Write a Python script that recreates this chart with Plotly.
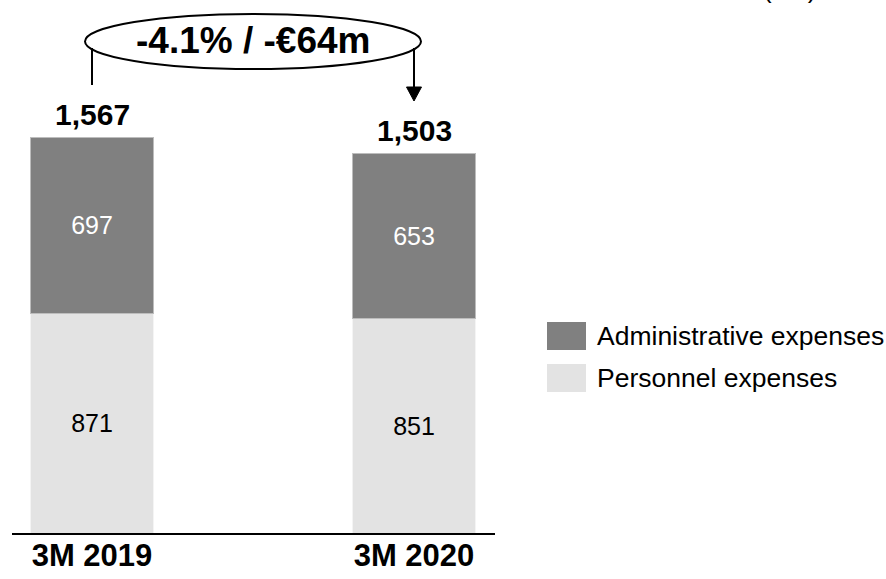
import plotly.graph_objects as go

# Quarterly operating expenses, € million
periods = ["3M 2019", "3M 2020"]
personnel = [871, 851]
administrative = [697, 653]
totals = [1567, 1503]
change_label = "-4.1% / -€64m"
unit_label = "(€m)"
series_names = ["Administrative expenses", "Personnel expenses"]

ADMIN_COLOR = "#808080"
PERSONNEL_COLOR = "#e3e3e3"
FONT = "Liberation Sans, Arial, sans-serif"

W, H = 886, 579
ML, MR, MT, MB = 12, 391, 20, 46
PLOT_W = W - ML - MR
PLOT_H = H - MT - MB


def px_x(px):
    """Pixel column -> paper x."""
    return (px - ML) / PLOT_W


def px_y(py):
    """Pixel row (from top) -> paper y."""
    return (H - MB - py) / PLOT_H


xpos = list(range(len(periods)))
bar_w = 0.385

fig = go.Figure()
fig.add_trace(go.Bar(
    x=xpos, y=personnel, width=bar_w, name=series_names[1],
    marker=dict(color=PERSONNEL_COLOR, line=dict(color="#f4f4f4", width=1)),
    text=[str(v) for v in personnel], textposition="inside",
    insidetextanchor="middle",
    textfont=dict(family=FONT, size=25, color="#000000"),
    showlegend=False, hoverinfo="skip",
))
fig.add_trace(go.Bar(
    x=xpos, y=administrative, width=bar_w, name=series_names[0],
    marker=dict(color=ADMIN_COLOR, line=dict(color="#bdbdbd", width=1)),
    text=[str(v) for v in administrative], textposition="inside",
    insidetextanchor="middle",
    textfont=dict(family=FONT, size=25, color="#ffffff"),
    showlegend=False, hoverinfo="skip",
))

annotations = []
# Totals above the stacks
for i, t in enumerate(totals):
    annotations.append(dict(
        x=xpos[i], y=t, xref="x", yref="y", text=f"{t:,}",
        showarrow=False, yanchor="middle", yshift=23,
        font=dict(family=FONT, size=30, color="#000000", weight="bold"),
    ))

# Change bubble text
annotations.append(dict(
    x=px_x(253), y=px_y(40), xref="paper", yref="paper", text=change_label,
    showarrow=False, xanchor="center", yanchor="middle",
    font=dict(family=FONT, size=37, color="#000000", weight="bold"),
))

# Unit label in the top-right corner
annotations.append(dict(
    x=px_x(789), y=px_y(6), xref="paper", yref="paper", text=unit_label,
    showarrow=False, xanchor="center", yanchor="bottom",
    font=dict(family=FONT, size=26, color="#000000"),
))

# Legend (drawn manually for large swatches)
legend_rows = [(series_names[0], ADMIN_COLOR, 336), (series_names[1], PERSONNEL_COLOR, 378)]
shapes = []
for name, color, cy in legend_rows:
    shapes.append(dict(
        type="rect", xref="paper", yref="paper",
        x0=px_x(547), x1=px_x(586), y0=px_y(cy - 14), y1=px_y(cy + 14),
        fillcolor=color, line=dict(width=0),
    ))
    annotations.append(dict(
        x=px_x(595), y=px_y(cy), xref="paper", yref="paper", text=name,
        showarrow=False, xanchor="left", yanchor="middle",
        font=dict(family=FONT, size=26.5, color="#000000"),
    ))

# Ellipse around the change label
shapes.append(dict(
    type="circle", xref="paper", yref="paper",
    x0=px_x(85), x1=px_x(421), y0=px_y(69), y1=px_y(14),
    fillcolor="rgba(255,255,255,0)", line=dict(color="#000000", width=2),
))
# Bracket from the first bar and arrow to the second bar
shapes.append(dict(
    type="line", xref="x", yref="paper",
    x0=xpos[0], x1=xpos[0], y0=px_y(48), y1=px_y(85),
    line=dict(color="#000000", width=2),
))
shapes.append(dict(
    type="line", xref="x", yref="paper",
    x0=xpos[1], x1=xpos[1], y0=px_y(48), y1=px_y(89),
    line=dict(color="#000000", width=2),
))
half = 7.5 / 322
shapes.append(dict(
    type="path", xref="x", yref="paper",
    path=(f"M {xpos[1] - half} {px_y(87)} L {xpos[1] + half} {px_y(87)} "
          f"L {xpos[1]} {px_y(101)} Z"),
    fillcolor="#000000", line=dict(color="#000000", width=1),
))

x0 = -80 / 322
fig.update_layout(
    width=W, height=H,
    margin=dict(l=ML, r=MR, t=MT, b=MB),
    barmode="stack",
    plot_bgcolor="#ffffff", paper_bgcolor="#ffffff",
    showlegend=False,
    annotations=annotations,
    shapes=shapes,
    font=dict(family=FONT),
    xaxis=dict(
        range=[x0, x0 + PLOT_W / 322], tickvals=xpos, ticktext=periods,
        showgrid=False, zeroline=False, showline=True, automargin=False,
        linecolor="#000000", linewidth=2, ticks="", ticklabelstandoff=-6,
        tickfont=dict(family=FONT, size=31, color="#000000", weight="bold"),
    ),
    yaxis=dict(
        range=[0, PLOT_H / 0.2524], visible=False, showgrid=False,
        zeroline=False, automargin=False,
    ),
)

fig.write_html("out.html")
